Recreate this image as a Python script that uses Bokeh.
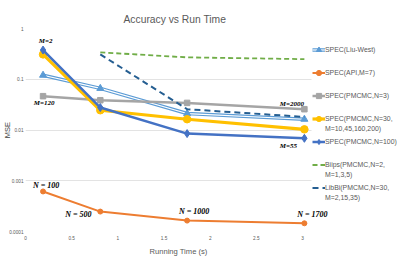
import math
from bokeh.plotting import figure
from bokeh.models import FixedTicker, Legend, LegendItem, Range1d, Title
from bokeh.core.properties import value
from bokeh.embed import file_html
from bokeh.resources import INLINE

# ---- data ----
times = [0.19, 0.81, 1.75, 3.02]
liu_west = [0.120, 0.066, 0.0211, 0.0163]
api_m7 = [0.000615, 0.000247, 0.000164, 0.000145]
pmcmc_n3 = [0.0464, 0.0386, 0.0342, 0.0257]
pmcmc_n30 = [0.309, 0.0245, 0.0163, 0.0103]
pmcmc_n100 = [0.376, 0.0277, 0.0085, 0.00686]
tool_times = [0.81, 1.75, 3.02]
biips = [0.339, 0.27, 0.249]
libbi = [0.309, 0.0257, 0.0181]

x_ticks = [0, 0.5, 1, 1.5, 2, 2.5, 3]
x_tick_labels = ["0", "0.5", "1", "1.5", "2", "2.5", "3"]
y_ticks = [0.0001, 0.001, 0.01, 0.1, 1]
y_tick_labels = ["0.0001", "0.001", "0.01", "0.1", "1"]

m_notes = ["M=2", "M=120", "M=2000", "M=55"]
n_notes = ["N = 100", "N = 500", "N = 1000", "N = 1700"]

FONT = "Liberation Sans"
TXT = "#595959"

p = figure(width=399, height=259, y_axis_type="log",
           x_range=Range1d(0, 4.05), y_range=Range1d(1e-4, 1),
           output_backend="svg", toolbar_location=None,
           min_border_left=25, min_border_right=0,
           min_border_top=28, min_border_bottom=28,
           background_fill_color="white", border_fill_color="white")
p.outline_line_color = None

p.title.text = "Accuracy vs Run Time"
p.title.text_font = FONT
p.title.text_font_size = "10.3px"
p.title.text_font_style = "normal"
p.title.text_color = TXT
p.title.align = "left"
p.title.offset = 98
p.title.standoff = 8

for ax in (p.xaxis[0], p.yaxis[0]):
    ax.axis_line_color = None
    ax.major_tick_line_color = None
    ax.minor_tick_line_color = None
    ax.major_tick_out = 0
    ax.major_tick_in = 0
    ax.minor_tick_out = 0
    ax.minor_tick_in = 0
    ax.major_label_text_font = FONT
    ax.major_label_text_font_size = "4.7px"
    ax.major_label_text_color = TXT

p.xaxis.major_label_standoff = 4
p.yaxis.major_label_standoff = 2

p.xaxis.ticker = FixedTicker(ticks=x_ticks)
p.xaxis.major_label_overrides = dict(zip(x_ticks, x_tick_labels))
p.yaxis.ticker = FixedTicker(ticks=y_ticks)
p.yaxis.major_label_overrides = dict(zip(y_ticks, y_tick_labels))

p.yaxis.axis_label = "MSE"
p.yaxis.axis_label_text_font = FONT
p.yaxis.axis_label_text_font_size = "7.5px"
p.yaxis.axis_label_text_font_style = "normal"
p.yaxis.axis_label_text_color = "#404040"
p.yaxis.axis_label_standoff = -6

xlabel = Title(text="Running Time (s)", align="left", offset=124,
               text_font=FONT, text_font_size="7.6px", text_font_style="normal",
               text_color=TXT, standoff=5)
p.add_layout(xlabel, "below")

p.xgrid.visible = False
p.ygrid.grid_line_color = "#D9D9D9"
p.ygrid.grid_line_width = 0.75
p.ygrid.cross_bounds = (0, 3.1)

# ---- series ----
liu_outer = p.line(times, liu_west, line_color="#5B9BD5", line_width=3.5)
liu_inner = p.line(times, liu_west, line_color="white", line_width=1.2)
liu_marks = p.scatter(times, liu_west, marker="triangle", size=7, color="#5B9BD5")

api_line = p.line(times, api_m7, line_color="#ED7D31", line_width=2)
api_marks = p.scatter(times, api_m7, marker="circle", size=5, color="#ED7D31")

n3_line = p.line(times, pmcmc_n3, line_color="#A5A5A5", line_width=2.5)
n3_marks = p.scatter(times, pmcmc_n3, marker="square", size=5.5, color="#A5A5A5")

n30_line = p.line(times, pmcmc_n30, line_color="#FFC000", line_width=3.2)
n30_marks = p.scatter(times, pmcmc_n30, marker="circle", size=7.5, color="#FFC000")

n100_line = p.line(times, pmcmc_n100, line_color="#4472C4", line_width=2.5)
n100_marks = p.scatter(times, pmcmc_n100, marker="diamond", size=8, color="#4472C4")

biips_line = p.line(tool_times, biips, line_color="#70AD47", line_width=1.8, line_dash="5 3")
libbi_line = p.line(tool_times, libbi, line_color="#255E91", line_width=2, line_dash="6 4")

# ---- annotations anchored to data points ----
m_x = [times[0], times[0], times[3], times[3]]
m_y = [pmcmc_n100[0], pmcmc_n3[0], pmcmc_n3[3], pmcmc_n100[3]]
p.text(x=m_x, y=m_y, text=m_notes,
       x_offset=[2.5, 1, -12.5, -16], y_offset=[-9, 7, -5, 7.5],
       text_align="center", text_baseline="middle",
       text_font=value("Liberation Serif"), text_font_style="bold italic",
       text_font_size="7px", text_color="black")

p.text(x=times, y=api_m7, text=n_notes,
       x_offset=[3, -22, 7, 8], y_offset=[-6, 3, -9, -8.5],
       text_align="center", text_baseline="middle",
       text_font=value("Liberation Serif"), text_font_style="bold italic",
       text_font_size="8px", text_color="black")

# ---- legend ----
dummy = p.line([], [], line_alpha=0)

main_items = [
    LegendItem(label="SPEC(Liu-West)", renderers=[liu_outer, liu_inner, liu_marks]),
    LegendItem(label="SPEC(API,M=7)", renderers=[api_line, api_marks]),
    LegendItem(label="SPEC(PMCMC,N=3)", renderers=[n3_line, n3_marks]),
    LegendItem(label="SPEC(PMCMC,N=30,", renderers=[n30_line, n30_marks]),
    LegendItem(label="SPEC(PMCMC,N=100)", renderers=[n100_line, n100_marks]),
    LegendItem(label="Biips(PMCMC,N=2,", renderers=[biips_line]),
    LegendItem(label="LibBi(PMCMC,N=30,", renderers=[libbi_line]),
]
cont_items = [
    LegendItem(label="M=10,45,160,200)", renderers=[dummy]),
    LegendItem(label=" ", renderers=[dummy]),
    LegendItem(label="M=1,3,5)", renderers=[dummy]),
    LegendItem(label="M=2,15,35)", renderers=[dummy]),
]

def style_legend(lg):
    lg.orientation = "vertical"
    lg.glyph_width = 13
    lg.glyph_height = 13
    lg.label_height = 13
    lg.spacing = 10
    lg.padding = 0
    lg.margin = 0
    lg.label_standoff = 0
    lg.border_line_color = None
    lg.background_fill_alpha = 0
    lg.label_text_font = FONT
    lg.label_text_font_size = "6.9px"
    lg.label_text_color = TXT

legend_main = Legend(items=main_items, location=(287, 37))
style_legend(legend_main)
legend_cont = Legend(items=cont_items, location=(287, 27))
style_legend(legend_cont)
p.add_layout(legend_main)
p.add_layout(legend_cont)

open("out.html", "w").write(file_html(p, INLINE))
